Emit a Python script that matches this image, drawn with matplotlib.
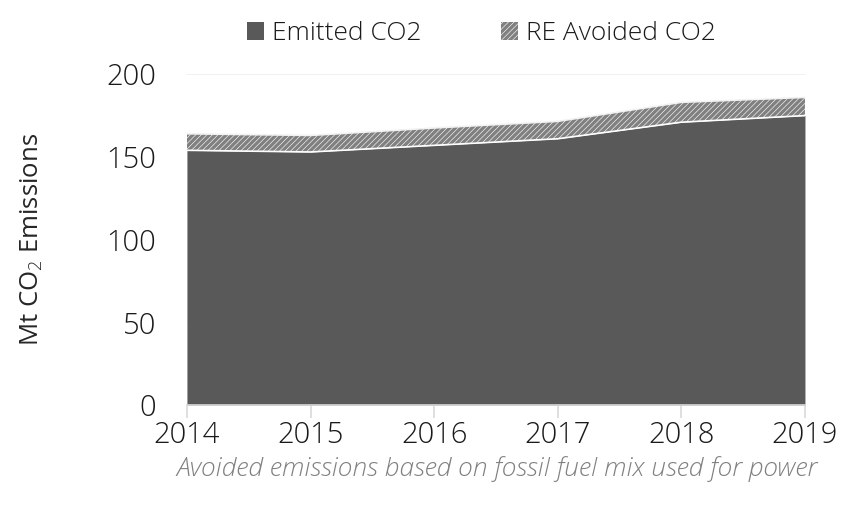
import matplotlib.pyplot as plt
from matplotlib.patches import Patch

# emissions per year, Mt CO2
years = [2014, 2015, 2016, 2017, 2018, 2019]
emitted = [154, 153, 157, 161, 171, 175]
avoided = [10, 10, 10.5, 10.5, 12, 11]
yticks = [0, 50, 100, 150, 200]

plt.rcParams['font.family'] = ['Open Sans', 'DejaVu Sans']
plt.rcParams['font.weight'] = 'light'
plt.rcParams['mathtext.fontset'] = 'custom'
plt.rcParams['mathtext.rm'] = 'Open Sans:light'
plt.rcParams['hatch.color'] = '#808080'
plt.rcParams['hatch.linewidth'] = 2.4

fig = plt.figure(figsize=(8.42, 5.05), dpi=100)
ax = fig.add_axes([0.222, 0.198, 0.734, 0.655])

total = [e + a for e, a in zip(emitted, avoided)]
ax.fill_between(years, 0, emitted, color='#595959', linewidth=0, zorder=2)
ax.fill_between(years, emitted, total, facecolor='white', hatch='//////',
                edgecolor='#808080', linewidth=0, zorder=2)
# thin white seams round the stripes band
ax.plot(years, emitted, color='white', lw=1.2, zorder=3)
ax.plot(years, total, color='#f2f2f2', lw=1.2, zorder=3)

ax.set_xlim(years[0], years[-1])
ax.set_ylim(0, 200)
ax.set_xticks(years)
ax.set_yticks(yticks)
ax.grid(axis='y', color='#f0f0f0', lw=1.5, zorder=0)
for s in ['top', 'right', 'left']:
    ax.spines[s].set_visible(False)
ax.spines['bottom'].set_color('#d9d9d9')
ax.spines['bottom'].set_linewidth(1.2)
ax.tick_params(axis='x', length=9, color='#d9d9d9', width=1.2, pad=2,
               labelsize=21, labelcolor='#1a1a1a')
ax.tick_params(axis='y', length=0, pad=22, labelsize=21, labelcolor='#1a1a1a')

ax.set_ylabel('Mt CO$_2$ Emissions', fontsize=18.5, color='#262626', labelpad=44)

handles = [Patch(facecolor='#595959', edgecolor='none', label='Emitted CO2'),
           Patch(facecolor='white', edgecolor='#808080', hatch='//////',
                 linewidth=0, label='RE Avoided CO2')]
leg = fig.legend(handles=handles, loc='upper center', bbox_to_anchor=(0.572, 1.005),
                 ncol=2, frameon=False, fontsize=19, handlelength=0.65,
                 handleheight=0.65, handletextpad=0.3, columnspacing=3.0)
for t in leg.get_texts():
    t.set_color('#1a1a1a')

fig.text(0.59, 0.058, 'Avoided emissions based on fossil fuel mix used for power',
         ha='center', fontsize=19, style='italic', color='#808080')

fig.savefig('out.png', dpi=100)
